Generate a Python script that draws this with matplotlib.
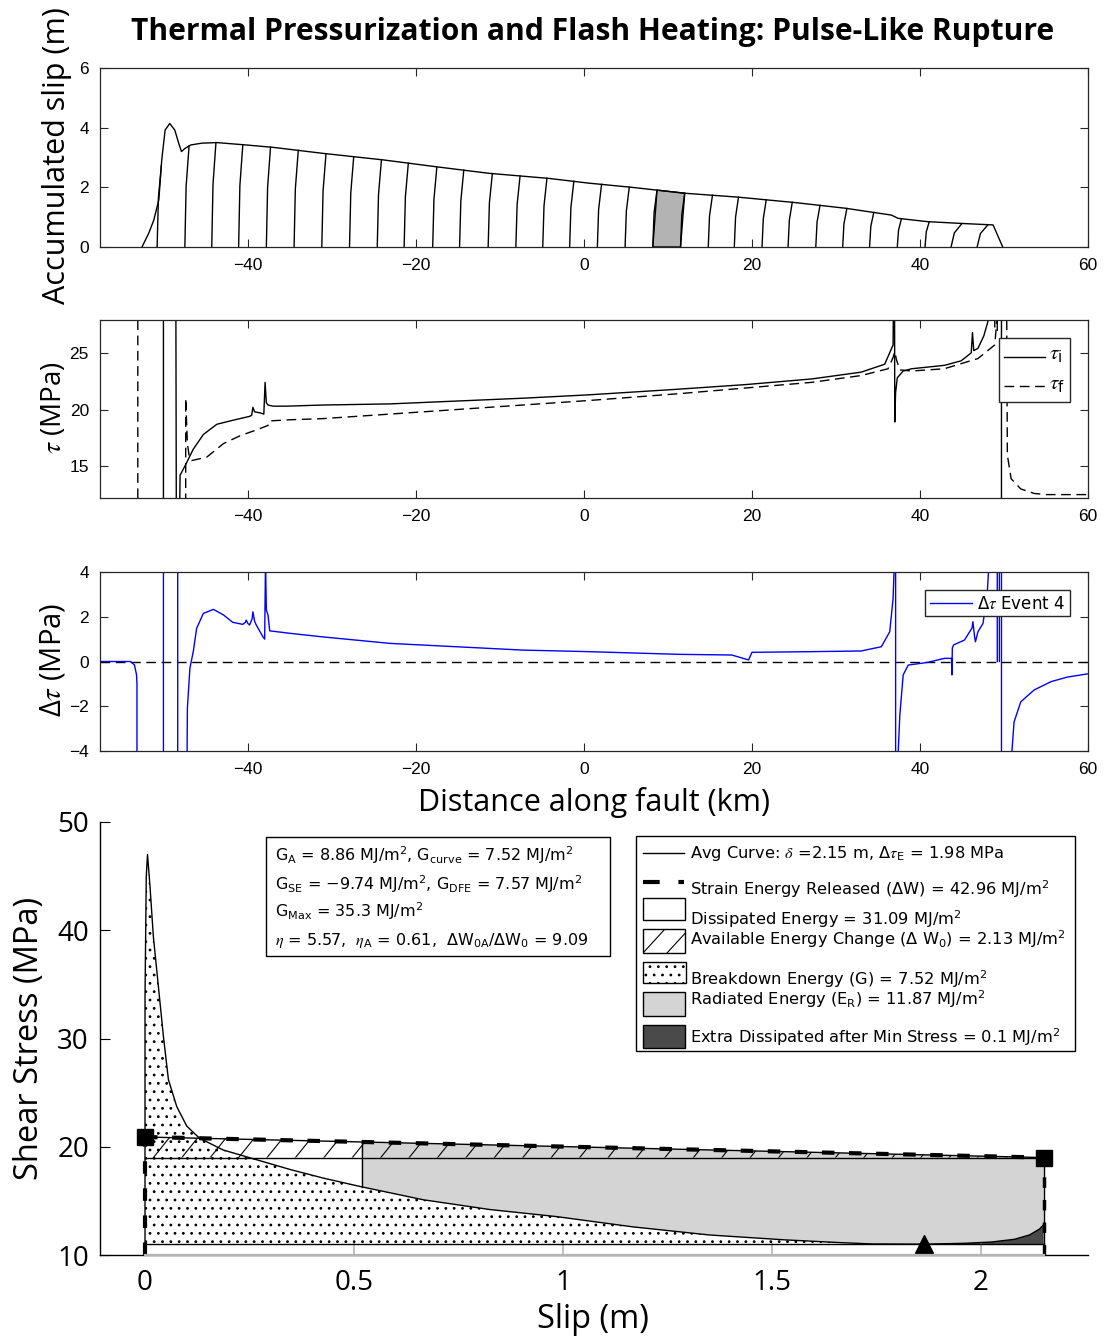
import numpy as np
import matplotlib
matplotlib.use("Agg")
import matplotlib.pyplot as plt
from matplotlib.patches import Rectangle, Polygon
from matplotlib.lines import Line2D

nan = np.nan

# ---------------- data ----------------
# Panel 1: final accumulated slip profile (km, m)
slip_x = [-52.6, -51.8, -51.2, -50.6, -50.25, -49.85, -49.3, -48.7, -48.2, -47.9,
          -47.5, -46.8, -45.5, -43.7, -40.2, -37.0, -31.1, -23.9, -17.6, -11.3,
          -4.2, 0.6, 5.7, 12.1, 18.4, 25.1, 31.1, 36.6, 37.4, 40.9,
          44.9, 48.7, 49.85]
slip_y = [0.0, 0.46, 0.9, 1.58, 2.92, 3.92, 4.14, 3.92, 3.45, 3.2,
          3.3, 3.42, 3.48, 3.5, 3.42, 3.34, 3.14, 2.92, 2.69, 2.47,
          2.30, 2.14, 2.0, 1.8, 1.67, 1.49, 1.30, 1.07, 0.96, 0.85,
          0.79, 0.74, 0.0]
# slip contours (rupture front positions at equal time steps, km)
contour_x = [-50.8, -47.5, -44.3, -41.1, -37.8, -34.5, -31.2, -27.9, -24.6, -21.4,
             -18.0, -14.8, -11.4, -8.1, -4.9, -1.7, 1.6, 4.9, 8.2, 11.5,
             14.8, 17.9, 21.2, 24.3, 27.6, 30.8, 34.0, 37.3, 40.6, 43.7,
             46.8]
highlight_range = [8.2, 11.5]

# Panel 2: initial (solid) and final (dashed) shear stress (MPa)
tau_i_x = [-50.05, -50.05, nan, -48.6, -48.5, nan,
           -48.2, -48.07, -47.3, -46.5, -45.3, -43.7, -42.1, -39.8, -39.55, -39.4,
           -39.2, -38.5, -38.1, -37.95, -37.8, -37.6, -37.0, -35.4, -31.1, -23.1,
           -15.2, -7.3, 0.6, 11.3, 19.2, 27.1, 33.0, 35.8, 36.8, 36.95,
           37.0, 37.1, 37.3, 38.0, 39.0, 42.9, 44.9, 46.1, 46.25, 46.4,
           46.9, 47.6, 48.1, 48.4, nan,
           48.9, 48.9, nan, 49.2, 49.2, nan, 49.7, 49.7]
tau_i_y = [5, 40, nan, 40, 5, nan,
           5, 14.2, 15.3, 16.5, 17.8, 18.7, 19.0, 19.4, 19.5, 20.2,
           19.8, 19.7, 19.6, 22.4, 20.6, 20.4, 20.3, 20.3, 20.4, 20.5,
           20.75, 21.0, 21.3, 21.8, 22.2, 22.7, 23.3, 24.0, 25.7, 40,
           18.9, 21.5, 22.8, 23.4, 23.6, 23.9, 24.3, 25.0, 26.8, 25.2,
           25.4, 26.5, 27.8, 30, nan,
           27.3, 30, nan, 27.0, 30, nan, 30, 5]
tau_f_x = [-53.1, -53.1, nan,
           -47.4, -47.4, -47.2, -47.0, -46.7, -44.9, -42.9, -40.9, -39.0, -37.6,
           -37.4, -35.0, -31.1, -23.1, -15.2, -7.3, 0.6, 11.3, 19.2, 27.1,
           33.0, 36.2, 36.8, 37.0, 37.2, 37.6, 39.0, 42.9, 46.9, 48.9,
           49.4, nan,
           50.25, 50.4, 50.85, 52.0, 53.6, 55.0, 60.0]
tau_f_y = [40, 5, nan,
           5, 21.0, 17.0, 16.0, 15.5, 15.8, 17.0, 17.7, 18.2, 18.6,
           19.0, 19.1, 19.2, 19.6, 20.0, 20.4, 20.8, 21.4, 21.9, 22.4,
           23.0, 23.6, 24.6, 25.1, 24.4, 23.5, 23.4, 23.6, 24.5, 25.7,
           30, nan,
           40, 16.0, 13.9, 13.0, 12.6, 12.5, 12.5]

# Panel 3: stress change, Event 4 (MPa)
dtau_x = [-57.6, -54.0, -53.5, -53.25, -53.2, -53.2, nan,
          -50.05, -50.05, nan, -48.35, -48.35, nan,
          -47.25, -47.2, -46.9, -46.5, -46.1, -45.3, -44.1, -42.9, -41.8, -40.6,
          -40.3, -40.2, -40.0, -39.8, -39.5, -39.4, -39.2, -39.0, -38.2, -38.0,
          -37.9, -37.8, -37.6, -37.4, -35.0, -31.1, -23.1, -15.2, -7.3, 0.6,
          11.3, 17.6, 19.6, 20.0, 27.1, 33.0, 35.4, 36.4, 36.8, 37.0, nan,
          37.1, 37.1, nan,
          37.3, 37.6, 38.0, 38.6, 40.9, 42.9, 43.75, 43.8, 43.85, 44.0,
          45.3, 46.2, 46.3, 46.5, 46.6, 46.9, 47.5, 48.0, 48.3, nan,
          49.2, 49.2, nan, 49.45, 49.45, nan, 49.7, 49.7, nan,
          50.75, 51.2, 52.0, 53.6, 55.6, 57.5, 60.0]
dtau_y = [0.0, 0.0, -0.15, -0.6, -1.0, -5, nan,
          5, -5, nan, 5, -5, nan,
          -5, -2.1, -0.3, 0.44, 1.48, 2.15, 2.33, 2.08, 1.75, 1.66,
          1.75, 1.85, 1.70, 1.63, 1.9, 2.22, 1.8, 1.63, 1.1, 1.0,
          4.5, 2.3, 2.07, 1.37, 1.26, 1.1, 0.81, 0.66, 0.51, 0.44,
          0.32, 0.29, 0.07, 0.41, 0.44, 0.47, 0.66, 1.33, 2.82, 5, nan,
          5, -5, nan,
          -5, -2.4, -0.6, -0.16, -0.04, 0.14, 0.14, -0.6, 0.6, 0.74,
          0.96, 1.5, 1.78, 1.1, 0.88, 1.33, 1.7, 3.0, 5, nan,
          5, 0, nan, 0, 5, nan, 5, -5, nan,
          -5, -2.7, -1.8, -1.27, -0.9, -0.7, -0.55]

# Panel 4: averaged stress-slip curve
curve_slip = [0.0, 0.0, 0.003, 0.006, 0.012, 0.020, 0.032, 0.044, 0.056, 0.076,
              0.100, 0.130, 0.187, 0.267, 0.347, 0.427, 0.518, 0.666, 0.825, 0.984,
              1.167, 1.350, 1.530, 1.660, 1.740, 1.864, 1.960, 2.025, 2.080, 2.116,
              2.140, 2.150]
curve_stress = [11.0, 33.9, 45.0, 47.0, 44.0, 39.4, 34.8, 30.2, 26.2, 23.7,
                21.9, 20.8, 19.7, 18.8, 17.9, 17.1, 16.3, 15.1, 14.2, 13.55,
                12.6, 11.85, 11.4, 11.15, 11.02, 11.0, 11.08, 11.2, 11.45, 11.85,
                12.4, 12.8]
tau_start = 20.9      # initial stress (MPa)
tau_end = 19.0        # final stress (MPa)
tau_min = 11.0        # minimum stress (MPa)
slip_final = 2.15     # total slip (m)
slip_at_min = 1.864   # slip at minimum stress (m)
rad_start = 0.518     # start of radiated-energy region (m)

stats_lines = [
    r"$\mathregular{G_{A}}$ = 8.86 MJ/m$\mathregular{^2}$, $\mathregular{G_{curve}}$ = 7.52 MJ/m$\mathregular{^2}$",
    r"$\mathregular{G_{SE}}$ = −9.74 MJ/m$\mathregular{^2}$, $\mathregular{G_{DFE}}$ = 7.57 MJ/m$\mathregular{^2}$",
    r"$\mathregular{G_{Max}}$ = 35.3 MJ/m$\mathregular{^2}$",
    r"$\eta$ = 5.57,  $\eta_\mathregular{A}$ = 0.61,  Δ$\mathregular{W_{0A}}$/Δ$\mathregular{W_0}$ = 9.09",
]
legend_labels = [
    r"Avg Curve: $\delta$ =2.15 m, Δ$\tau_\mathregular{E}$ = 1.98 MPa",
    r"Strain Energy Released (ΔW) = 42.96 MJ/m$\mathregular{^2}$",
    r"Dissipated Energy = 31.09 MJ/m$\mathregular{^2}$",
    r"Available Energy Change (Δ $\mathregular{W_0}$) = 2.13 MJ/m$\mathregular{^2}$",
    r"Breakdown Energy (G) = 7.52 MJ/m$\mathregular{^2}$",
    r"Radiated Energy ($\mathregular{E_R}$) = 11.87 MJ/m$\mathregular{^2}$",
    r"Extra Dissipated after Min Stress = 0.1 MJ/m$\mathregular{^2}$",
]

# ---------------- figure ----------------
W, H = 1105, 1340
plt.rcParams["font.family"] = ["DejaVu Sans"]
plt.rcParams["hatch.linewidth"] = 0.8
fig = plt.figure(figsize=(W / 100, H / 100), dpi=100)


def fbox(l, t, r, b):
    return [l / W, 1 - b / H, (r - l) / W, (b - t) / H]


ax1 = fig.add_axes(fbox(100, 68, 1088, 247))
ax2 = fig.add_axes(fbox(100, 320, 1088, 498))
ax3 = fig.add_axes(fbox(100, 572, 1088, 751))
ax4 = fig.add_axes(fbox(100, 822, 1088, 1255))

for ax in (ax1, ax2, ax3):
    ax.set_xlim(-57.6, 60)
    ax.set_xticks([-40, -20, 0, 20, 40, 60])
    ax.tick_params(direction="in", top=True, right=True, length=6, width=0.8,
                   pad=8, colors="#262626", labelcolor="black")
    for s in ax.spines.values():
        s.set_linewidth(0.9)
        s.set_color("#262626")

# Panel 1
ax1.set_ylim(0, 6)
ax1.set_yticks([0, 2, 4, 6])
ax1.plot(slip_x, slip_y, color="black", lw=1)
for xc in contour_x:
    tilt = 1.3 if xc > 42 else 0.5
    xt = xc + tilt
    yt = np.interp(xt, slip_x, slip_y)
    ax1.plot([xc, xc + 0.3 * tilt, xt], [0, 0.6 * yt, yt], color="black", lw=1)
hl0, hl1 = highlight_range
pts = [(hl0, 0), (hl0 + 0.5, np.interp(hl0 + 0.5, slip_x, slip_y))]
pts += [(x, y) for x, y in zip(slip_x, slip_y) if hl0 + 0.5 < x < hl1 + 0.5]
pts += [(hl1 + 0.5, np.interp(hl1 + 0.5, slip_x, slip_y)), (hl1, 0)]
ax1.add_patch(Polygon(pts, closed=True, facecolor="#b3b3b3", edgecolor="black", lw=1))

# Panel 2
ax2.set_ylim(12.2, 27.9)
ax2.set_yticks([15, 20, 25])
ax2.plot(tau_i_x, tau_i_y, color="black", lw=1)
ax2.plot(tau_f_x, tau_f_y, color="black", lw=1, dashes=(7, 4))

# Panel 3
ax3.set_ylim(-4, 4)
ax3.set_yticks([-4, -2, 0, 2, 4])
ax3.axhline(0, color="black", lw=1, dashes=(7, 4))
ax3.plot(dtau_x, dtau_y, color="#0000ff", lw=1)

for ax in (ax1, ax2, ax3):
    for lab in ax.get_xticklabels() + ax.get_yticklabels():
        lab.set_fontfamily("Liberation Sans"); lab.set_fontsize(12.5)

# Panel 4
ax4.set_xlim(-0.1077, 2.256)
ax4.set_ylim(10, 50)
ax4.set_xticks([0, 0.5, 1, 1.5, 2])
ax4.set_xticklabels(["0", "0.5", "1", "1.5", "2"])
ax4.set_yticks([10, 20, 30, 40, 50])
ax4.spines["top"].set_visible(False)
ax4.spines["right"].set_visible(False)
ax4.spines["left"].set_linewidth(1)
ax4.spines["bottom"].set_linewidth(1)
ax4.tick_params(axis="y", direction="in", length=7, width=0.8, pad=8)
ax4.tick_params(axis="x", direction="in", length=9, width=1.2, color="#b4b4b4", pad=10)
for lab in ax4.get_xticklabels() + ax4.get_yticklabels():
    lab.set_fontfamily("Open Sans"); lab.set_fontsize(20)


def top_line(x):
    return np.interp(x, [0, slip_final], [tau_start, tau_end])


# radiated energy (gray)
g_pts = [(x, y) for x, y in zip(curve_slip, curve_stress) if x >= rad_start]
g_pts += [(slip_final, tau_end), (rad_start, top_line(rad_start))]
ax4.add_patch(Polygon(g_pts, closed=True, facecolor="#d4d4d4", edgecolor="none", zorder=1))
# extra dissipated after min stress (dark)
d_pts = [(slip_at_min, tau_min)]
d_pts += [(x, y) for x, y in zip(curve_slip, curve_stress) if x > slip_at_min]
d_pts += [(slip_final, tau_min)]
ax4.add_patch(Polygon(d_pts, closed=True, facecolor="#4a4a4a", edgecolor="none", zorder=1.5))
# breakdown energy (stipple)
s_pts = [(x, y) for x, y in zip(curve_slip, curve_stress) if x <= slip_at_min]
s_pts += [(slip_at_min, tau_min), (0, tau_min)]
ax4.add_patch(Polygon(s_pts, closed=True, facecolor="none", edgecolor="black",
                      hatch="..", lw=0, zorder=2))
# available energy change (hatched band)
band = Polygon([(0, tau_start), (slip_final, tau_end), (0, tau_end)], closed=True,
               facecolor="none", edgecolor="none", zorder=2)
ax4.add_patch(band)
for x0 in np.arange(0.02, slip_final, 0.068):
    ln = Line2D([x0, x0 + 0.05], [tau_end, tau_end + 2.4], color="black", lw=0.8, zorder=2.5)
    ax4.add_line(ln)
    ln.set_clip_path(band)

# lines
ax4.plot(curve_slip, curve_stress, color="black", lw=1, zorder=3)
ax4.plot([0, slip_final], [tau_end, tau_end], color="black", lw=1, zorder=3)
ax4.plot([0, slip_final], [tau_min, tau_min], color="black", lw=1, zorder=3)
ax4.plot([0, slip_final], [tau_start, tau_end], color="black", lw=1, zorder=3)
ax4.plot([rad_start, rad_start], [np.interp(rad_start, curve_slip, curve_stress), top_line(rad_start)],
         color="black", lw=1, zorder=3)
ax4.plot([slip_final, slip_final], [10, tau_end], color="black", lw=1, zorder=3)
ax4.plot([0, slip_final], [tau_start, tau_end], color="black", lw=3, dashes=(3, 3.5), zorder=4)
ax4.plot([0, 0], [10, tau_start], color="black", lw=3, dashes=(3, 3.5), zorder=4, clip_on=False)
ax4.plot([slip_final, slip_final], [10, tau_end], color="black", lw=2.5, dashes=(3, 3.5), zorder=4, clip_on=False)
ax4.plot([0, slip_final], [tau_start, tau_end], "s", color="black", ms=11, zorder=5, clip_on=False)
ax4.plot([slip_at_min], [tau_min], "^", color="black", ms=13, zorder=5)
ax4.plot([0, slip_final], [10, 10], color="#b4b4b4", lw=1.6, zorder=6, clip_on=False)

# ---------------- text & legends (overlay in pixel coordinates) ----------------
ov = fig.add_axes([0, 0, 1, 1], zorder=10)
ov.set_xlim(0, W)
ov.set_ylim(H, 0)
ov.axis("off")

ov.text(593, 32, "Thermal Pressurization and Flash Heating: Pulse-Like Rupture",
        ha="center", va="center", fontsize=21.6, fontweight="bold", family="Open Sans")

lab_kw = dict(family="Open Sans", math_fontfamily="stix", ha="center", va="center")
ov.text(57, 156, "Accumulated slip (m)", rotation=90, fontsize=22, **lab_kw)
ov.text(54, 408, r"$\tau$ (MPa)", rotation=90, fontsize=20, **lab_kw)
ov.text(53, 660, r"Δ$\tau$ (MPa)", rotation=90, fontsize=21, **lab_kw)
ov.text(594, 802, "Distance along fault (km)", fontsize=22, **lab_kw)
ov.text(30, 1038, "Shear Stress (MPa)", rotation=90, fontsize=23.5, **lab_kw)
ov.text(593, 1320, "Slip (m)", fontsize=23.5, **lab_kw)

# panel 2 legend
ov.add_patch(Rectangle((999, 338), 71, 64, facecolor="white", edgecolor="#262626", lw=1))
ov.add_line(Line2D([1004, 1045], [357, 357], color="black", lw=1))
ov.add_line(Line2D([1004, 1045], [386, 386], color="black", lw=1, dashes=(7, 4)))
ov.text(1049, 360, r"$\tau_\mathregular{i}$", fontsize=15, va="baseline", math_fontfamily="stix")
ov.text(1049, 390, r"$\tau_\mathregular{f}$", fontsize=15, va="baseline", math_fontfamily="stix")

# panel 3 legend
ov.add_patch(Rectangle((925, 590), 145, 26, facecolor="white", edgecolor="#262626", lw=1))
ov.add_line(Line2D([930, 972], [603, 603], color="#0000ff", lw=1))
ov.text(977, 604, r"Δ$\tau$ Event 4", fontsize=12, va="center", math_fontfamily="stix")

# stats box
ov.add_patch(Rectangle((266, 837), 344, 119, facecolor="white", edgecolor="black", lw=1))
for s, yb in zip(stats_lines, [861, 890, 917, 945]):
    ov.text(275, yb, s, fontsize=11.5, va="baseline", math_fontfamily="stix")

# energy legend
ov.add_patch(Rectangle((636, 836), 439, 215, facecolor="white", edgecolor="black", lw=1))
ov.add_line(Line2D([643, 684], [853, 853], color="black", lw=1))
ov.add_line(Line2D([643, 684], [882, 882], color="black", lw=3, dashes=(4, 4.5)))
ov.add_patch(Rectangle((643, 898), 42, 22, facecolor="white", edgecolor="black", lw=1))
hat = Rectangle((643, 929), 42, 24, facecolor="white", edgecolor="black", lw=1)
ov.add_patch(hat)
for xa in (643, 667):
    hl = Line2D([xa, xa + 22], [953, 929], color="black", lw=0.8)
    ov.add_line(hl)
    hl.set_clip_path(hat)
ov.add_patch(Rectangle((643, 962), 43, 21, facecolor="white", edgecolor="black", lw=1, hatch=".."))
ov.add_patch(Rectangle((643, 992), 42, 24, facecolor="#d4d4d4", edgecolor="black", lw=1))
ov.add_patch(Rectangle((643, 1025), 42, 23, facecolor="#4a4a4a", edgecolor="black", lw=1))
for s, yb in zip(legend_labels, [858, 895, 925, 945, 985, 1005, 1043]):
    ov.text(690, yb, s, fontsize=11.7, va="baseline", math_fontfamily="stix")

fig.savefig("out.png", dpi=100)
